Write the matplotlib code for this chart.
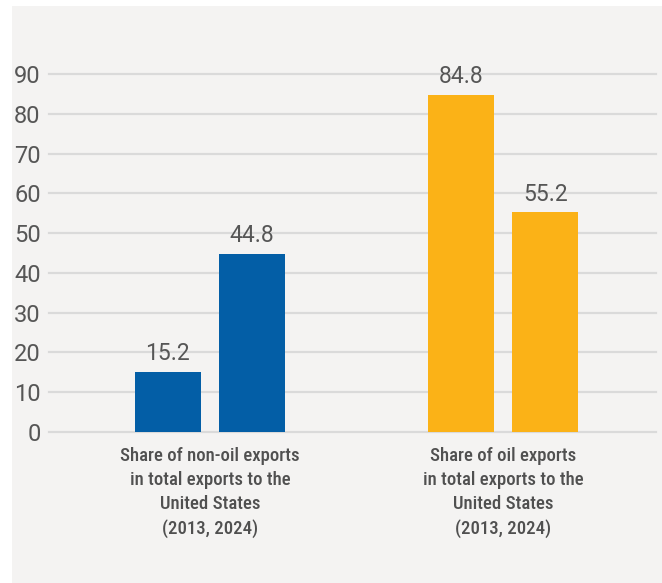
import matplotlib.pyplot as plt
from matplotlib.patches import Rectangle
from matplotlib import font_manager

groups = ["Share of non-oil exports\nin total exports to the\nUnited States\n(2013, 2024)",
          "Share of oil exports\nin total exports to the\nUnited States\n(2013, 2024)"]
values_2013 = [15.2, 84.8]
values_2024 = [44.8, 55.2]
group_colors = ["#035ea6", "#fbb217"]
yticks = [0, 10, 20, 30, 40, 50, 60, 70, 80, 90]

# use a condensed face for the category labels if one is installed
names = {f.name for f in font_manager.fontManager.ttflist}
narrow = [n for n in ["Roboto Condensed", "Liberation Sans Narrow"] if n in names]
label_font = narrow[0] if narrow else "Roboto"
plt.rcParams["font.family"] = ["Roboto", "DejaVu Sans"]

text_color = "#565656"

fig = plt.figure(figsize=(6.62, 5.83), dpi=100, facecolor="white")
bg = Rectangle((12 / 662, 0), 1, 1 - 6 / 583, transform=fig.transFigure,
               facecolor="#f4f3f2", edgecolor="none", zorder=-10)
fig.patches.append(bg)

ax = fig.add_axes([49 / 662, 1 - 432 / 583, (656 - 49) / 662, (432 - 74) / 583])
ax.set_zorder(5)
ax.set_facecolor("none")

w = 0.225
off = 0.144
for i in range(len(groups)):
    for x, v in [(i - off, values_2013[i]), (i + off, values_2024[i])]:
        ax.bar(x, v, width=w, color=group_colors[i], zorder=3)
        ax.text(x, v + 1.6, f"{v:.1f}", ha="center", va="bottom",
                fontsize=16.5, color=text_color, zorder=4)

ax.set_xlim(-0.549, 1.522)
ax.set_ylim(0, 90)
ax.set_yticks(yticks)
ax.yaxis.grid(True, color="#dadada", linewidth=1.6, zorder=0)
ax.set_axisbelow(True)
for line in ax.get_ygridlines():
    line.set_clip_on(False)
ax.tick_params(axis="y", length=0, pad=6, labelsize=17, labelcolor=text_color)
ax.set_xticks([0, 1])
ax.set_xticklabels(groups, fontsize=13.5, color="#505050", linespacing=1.42,
                   family=label_font, fontweight="medium")
ax.tick_params(axis="x", length=0, pad=11)
for s in ax.spines.values():
    s.set_visible(False)

plt.savefig("out.png", dpi=100, facecolor="white")
